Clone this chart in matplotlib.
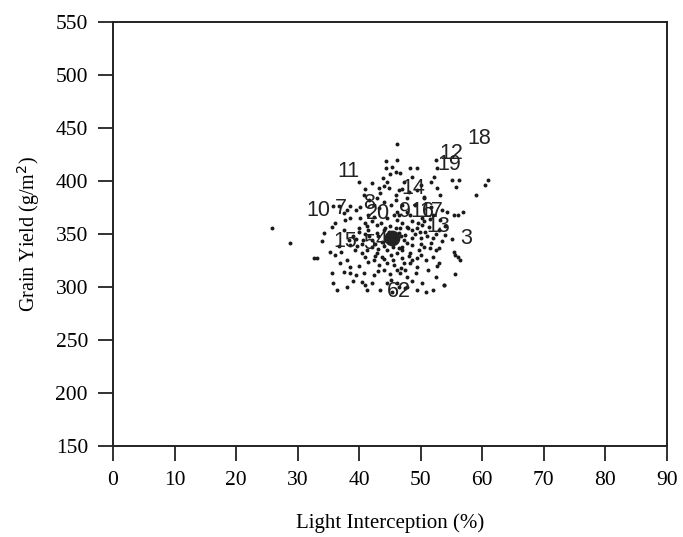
import matplotlib
matplotlib.use("Agg")
import matplotlib.pyplot as plt

# individual plot observations (light interception %, grain yield g/m2)
obs_x = [
    46.2, 44.4, 46.2, 45.4, 44.3, 45.0, 45.9, 43.9, 44.5, 43.2, 44.1, 44.8,
    41.0, 43.4, 45.9, 42.9, 40.7, 38.5, 38.0, 37.5, 39.4, 40.2, 35.8, 36.7,
    42.4, 43.2, 45.1, 46.2, 41.5, 42.4, 38.5, 37.7, 40.2, 44.5, 46.2, 45.6,
    48.3, 49.4, 52.4, 52.7, 52.2, 51.6, 55.1, 56.2, 55.7, 53.2, 52.7, 46.7,
    47.3, 46.4, 47.8, 47.0, 51.6, 54.3, 55.4, 53.2, 47.8, 46.4,
    35.6, 37.5, 34.2, 35.3, 36.1, 36.9, 38.0, 38.5, 37.5, 32.6, 33.2, 35.6,
    35.8, 36.4, 38.5, 39.4, 40.7, 40.5, 41.0, 42.1, 42.4, 41.5, 42.4, 43.2,
    44.0, 44.5, 45.6, 46.2, 42.9, 43.7, 45.1, 41.3, 40.5, 42.1, 42.9, 44.0,
    41.5, 45.1, 46.2, 43.4, 41.3, 46.2,
    46.7, 47.8, 48.6, 49.4, 50.2, 51.3, 54.0, 47.3, 48.6, 50.0, 51.6, 53.0,
    47.0, 48.3, 49.7, 50.5, 47.3, 48.3, 49.4, 50.8, 53.0, 55.4, 56.0, 46.7,
    47.8, 49.2, 50.2, 52.4, 53.8, 50.8, 47.8, 49.4, 46.4,
    42.9, 44.2, 44.9, 41.6, 42.6, 43.7, 46.2, 40.6, 39.6, 46.5, 44.5, 39.0,
    40.0, 41.3, 46.8, 47.8, 49.1, 50.7, 52.0, 48.1, 49.4, 46.8, 51.1,
    48.3, 49.1, 50.2, 52.0, 53.5, 50.6, 49.4, 48.1, 56.0, 56.8,
    38.3, 36.7, 39.3, 41.6, 45.4, 47.5,
    25.8, 28.7, 52.9, 52.4, 52.7, 53.7, 60.4, 60.9, 59.0, 56.3, 55.6,
    41.0, 42.0, 43.5, 45.0, 46.0, 47.0, 48.5, 49.5, 50.5, 51.5,
    40.0, 41.0, 43.0, 44.5, 46.5, 47.5, 48.0, 49.8, 51.0, 52.5,
    39.5, 40.5, 42.0, 43.0, 44.0, 45.5, 47.0, 48.5, 50.0, 51.5,
    41.0, 42.5, 44.0, 45.5, 47.0, 48.5, 50.0, 52.0,
    40.0, 43.0, 45.0, 47.5, 48.5, 44.5, 39.0, 38.0,
    36.0, 34.0, 37.0, 38.5, 54.0, 55.0, 53.5, 55.5, 52.0,
    47.0, 50.0, 42.0, 40.0, 48.5, 50.5, 44.0, 46.0,
]
obs_y = [
    434.6, 418.9, 419.8, 413.5, 412.0, 406.3, 408.2, 403.1, 399.3, 393.7, 395.6, 393.7,
    392.5, 388.4, 386.8, 383.7, 386.8, 376.7, 372.6, 369.5, 372.6, 375.8, 376.7, 376.4,
    377.4, 374.2, 377.4, 371.0, 367.9, 366.3, 364.8, 363.2, 364.8, 364.8, 363.2, 367.9,
    412.0, 412.0, 419.8, 412.0, 404.1, 399.3, 400.9, 400.9, 394.6, 386.8, 393.1, 407.3,
    399.3, 391.5, 383.7, 377.4, 375.8, 371.0, 367.9, 363.2, 371.0, 367.9,
    356.9, 353.8, 350.7, 333.3, 330.2, 322.4, 325.5, 319.2, 314.4, 327.1, 327.1, 312.9,
    303.5, 297.2, 312.9, 311.3, 312.9, 305.0, 301.9, 303.5, 311.3, 323.9, 325.5, 320.8,
    316.0, 322.4, 320.8, 316.0, 331.8, 328.6, 330.2, 334.9, 331.8, 344.3, 350.7, 353.8,
    353.8, 306.6, 303.5, 297.2, 297.2, 331.8,
    355.4, 356.9, 353.8, 355.4, 358.5, 356.9, 349.1, 344.3, 345.9, 345.9, 341.2, 336.5,
    334.9, 331.8, 334.9, 338.0, 322.4, 322.4, 319.2, 325.5, 322.4, 333.3, 328.6, 312.9,
    309.7, 312.9, 303.5, 309.7, 301.9, 295.6, 300.3, 297.2, 300.3,
    358.5, 355.7, 351.9, 348.1, 340.6, 342.5, 344.3, 344.3, 338.7, 336.5, 334.9, 348.1,
    355.7, 357.5, 348.1, 341.5, 350.0, 351.9, 346.2, 329.6, 327.7, 318.3, 316.0,
    367.9, 377.4, 364.8, 367.9, 372.6, 383.7, 391.5, 389.6, 367.9, 370.6,
    344.3, 338.7, 334.9, 382.1, 295.3, 299.1,
    355.7, 341.5, 354.0, 335.0, 320.0, 302.0, 396.0, 401.0, 387.0, 325.0, 330.0,
    360.0, 362.0, 360.0, 358.0, 356.0, 360.0, 362.0, 360.0, 362.0, 364.0,
    352.0, 350.0, 348.0, 349.0, 351.0, 349.0, 356.0, 352.0, 348.0, 350.0,
    345.0, 341.0, 338.0, 336.0, 339.0, 338.0, 338.0, 340.0, 341.0, 337.0,
    328.0, 329.0, 326.0, 325.0, 327.0, 325.0, 330.0, 328.0,
    320.0, 315.0, 312.0, 316.0, 306.0, 304.0, 306.0, 300.0,
    360.0, 343.0, 333.0, 340.0, 358.0, 345.0, 343.0, 312.0, 297.0,
    392.0, 396.0, 398.0, 399.0, 404.0, 385.0, 380.0, 382.0,
]

# overall mean
mean_x = [45.4]
mean_y = [346.2]

# genotype means, labelled by entry number
entry_labels = ["18", "12", "19", "11", "14", "10", "7", "8", "20", "9",
                "16", "17", "13", "3", "15", "5", "4", "6", "2"]
entry_x = [59.5, 54.9, 54.6, 38.2, 48.8, 33.4, 37.0, 41.6, 43.1, 47.5,
           50.2, 51.7, 52.9, 57.3, 37.7, 41.6, 43.6, 45.4, 47.3]
entry_y = [440, 426, 416, 408.5, 393, 372.6, 373.6, 379.2, 369.8, 370.8,
           370.8, 370.8, 357.5, 346.2, 342.5, 340.6, 344.3, 295.3, 295.3]

x_ticks = list(range(0, 100, 10))
y_ticks = list(range(150, 600, 50))

fig = plt.figure(figsize=(6.83, 5.37), dpi=100)
ax = fig.add_axes([0.1654, 0.1695, 0.8112, 0.7895])

ax.scatter(obs_x, obs_y, s=8, color="#1a1a1a", linewidths=0, zorder=2)
ax.scatter(mean_x, mean_y, s=130, color="#222222", linewidths=0, zorder=3)

for lab, lx, ly in zip(entry_labels, entry_x, entry_y):
    ax.text(lx, ly, lab, ha="center", va="center", fontsize=15.5,
            family="Liberation Sans", color="#222222", zorder=4)

ax.set_xlim(0, 90)
ax.set_ylim(150, 550)
ax.set_xticks(x_ticks)
ax.set_yticks(y_ticks)

serif = "Liberation Serif"
ax.set_xticklabels([str(t) for t in x_ticks], family=serif, fontsize=15.5)
ax.set_yticklabels([str(t) for t in y_ticks], family=serif, fontsize=15.5)
ax.tick_params(direction="out", length=11, width=1.3, color="#222222", pad=7)

for sp in ax.spines.values():
    sp.set_linewidth(1.4)
    sp.set_color("#222222")

ax.set_xlabel("Light Interception (%)", family=serif, fontsize=15, labelpad=17)
ax.set_ylabel("Grain Yield (g/m$^2$)", family=serif, fontsize=14.5, labelpad=10)

fig.savefig("out.png", dpi=100)
